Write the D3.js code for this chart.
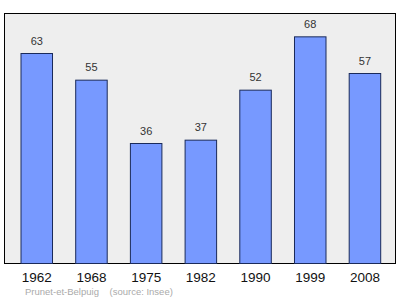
<!DOCTYPE html>
<html>
<head>
<meta charset="utf-8">
<script src="https://cdn.jsdelivr.net/npm/d3@7"></script>
<style>
  body { margin: 0; background: #fff; }
  svg { display: block; font-family: "Liberation Sans", Arial, sans-serif; }
</style>
</head>
<body>
<svg id="chart" width="400" height="299"></svg>
<script>
// population of Prunet-et-Belpuig by census year
const years = ['1962', '1968', '1975', '1982', '1990', '1999', '2008'];
const population = [63, 55, 36, 37, 52, 68, 57];
const caption = 'Prunet-et-Belpuig    (source: Insee)';

const svg = d3.select('#chart');
const frame = { left: 4.5, top: 13.5, right: 395.5, bottom: 263.5 };

const x = d3.scaleBand()
    .domain(years)
    .range([21, 380.7])
    .paddingInner(0.424)
    .paddingOuter(0);

const y = d3.scaleLinear()
    .domain([0, 75])
    .range([frame.bottom, frame.top]);

// plot background + frame
svg.append('rect')
    .attr('x', frame.left)
    .attr('y', frame.top)
    .attr('width', frame.right - frame.left)
    .attr('height', frame.bottom - frame.top)
    .attr('fill', '#eeeeee')
    .attr('stroke', '#000')
    .attr('stroke-width', 1);

const data = years.map((yr, i) => ({ year: yr, value: population[i] }));

svg.append('g').selectAll('rect')
    .data(data).enter()
    .append('rect')
    .attr('x', d => x(d.year))
    .attr('y', d => y(d.value))
    .attr('width', x.bandwidth())
    .attr('height', d => frame.bottom - y(d.value))
    .attr('fill', '#7799ff')
    .attr('stroke', '#1a2a5a')
    .attr('stroke-width', 1);

// value labels
svg.append('g').selectAll('text')
    .data(data).enter()
    .append('text')
    .attr('x', d => x(d.year) + x.bandwidth() / 2)
    .attr('y', d => y(d.value) - 9)
    .attr('text-anchor', 'middle')
    .attr('font-size', 11)
    .attr('fill', '#333')
    .text(d => d.value);

// year axis (labels only)
const axis = svg.append('g')
    .attr('transform', `translate(0,${frame.bottom})`)
    .call(d3.axisBottom(x).tickSize(0).tickPadding(0));
axis.select('.domain').remove();
axis.selectAll('text')
    .attr('dy', null)
    .attr('y', 18.5)
    .attr('font-size', 13.5)
    .attr('font-family', '"Liberation Sans", Arial, sans-serif')
    .attr('fill', '#111');

svg.append('text')
    .attr('x', 25)
    .attr('y', 295)
    .attr('font-size', 9.5)
    .attr('fill', '#aaaaaa')
    .attr('xml:space', 'preserve')
    .style('white-space', 'pre')
    .text(caption);
</script>
</body>
</html>
